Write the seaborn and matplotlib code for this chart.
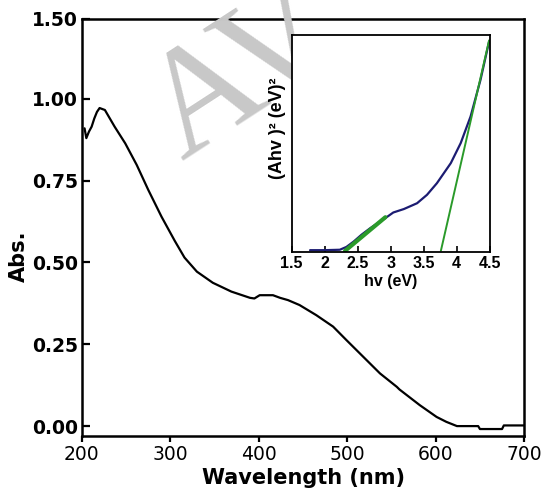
import numpy as np
import pandas as pd
import seaborn as sns
import matplotlib
matplotlib.use('Agg')
import matplotlib.pyplot as plt

# main absorption spectrum
wavelength = [203, 205, 208, 211, 214, 217, 220, 226, 237, 249, 262, 275, 290, 305,
              316, 330, 348, 369, 390, 395, 401, 416, 424, 433, 446, 465, 484, 499,
              518, 537, 556, 559, 582, 601, 612, 624, 648, 650, 675, 677, 700]
absorbance = [0.91, 0.88, 0.90, 0.915, 0.94, 0.96, 0.972, 0.966, 0.915, 0.864, 0.798,
              0.722, 0.64, 0.566, 0.515, 0.472, 0.438, 0.411, 0.392, 0.390, 0.40, 0.40,
              0.392, 0.385, 0.37, 0.339, 0.304, 0.263, 0.212, 0.161, 0.12, 0.112,
              0.064, 0.028, 0.013, 0.0, 0.0, -0.009, -0.009, 0.002, 0.002]

# Tauc plot inset (arbitrary units)
hv = [1.78, 2.0, 2.23, 2.33, 2.44, 2.56, 2.69, 2.82, 2.92, 3.04, 3.20, 3.40, 3.55,
      3.70, 3.91, 4.06, 4.21, 4.36, 4.49]
ahv2 = [0.3, 0.3, 0.5, 1.8, 4.3, 7.5, 10.5, 13.2, 15.2, 17.8, 19.4, 22.1, 26.0,
        31.4, 40.7, 50.0, 62.4, 79.4, 97.2]
fit1_hv = [2.31, 2.92]
fit1_y = [0.0, 15.6]
fit2_hv = [3.76, 4.49]
fit2_y = [0.0, 97.7]

ytick_vals = [0.0, 0.25, 0.50, 0.75, 1.00, 1.245]
ytick_labels = ['0.00', '0.25', '0.50', '0.75', '1.00', '1.50']
xtick_vals = [200, 300, 400, 500, 600, 700]
inset_ticks = [1.5, 2, 2.5, 3, 3.5, 4, 4.5]
inset_labels = ['1.5', '2', '2.5', '3', '3.5', '4', '4.5']

sns.set_style('ticks')
plt.rcParams['font.family'] = ['DejaVu Sans']
plt.rcParams['text.color'] = 'black'
plt.rcParams['axes.labelcolor'] = 'black'
plt.rcParams['xtick.color'] = 'black'
plt.rcParams['ytick.color'] = 'black'
plt.rcParams['axes.edgecolor'] = 'black'

fig = plt.figure(figsize=(5.46, 4.92), dpi=100)
ax = fig.add_axes([0.150, 0.114, 0.810, 0.848])
ax.set_zorder(0)

df = pd.DataFrame({'wl': wavelength, 'A': absorbance})
sns.lineplot(data=df, x='wl', y='A', ax=ax, color='black', lw=1.6,
             sort=False, estimator=None)
ax.set_xlim(200, 700)
ax.set_ylim(-0.03, 1.245)
ax.set_xticks(xtick_vals)
ax.set_xticklabels([str(v) for v in xtick_vals])
ax.set_yticks(ytick_vals)
ax.set_yticklabels(ytick_labels)
ax.tick_params(axis='y', direction='in', length=6, width=1.6, labelsize=13.5, pad=3)
ax.tick_params(axis='x', direction='out', length=4.5, width=1.6, labelsize=13.5, pad=2)
for lab in ax.get_yticklabels():
    lab.set_fontweight('bold')
for s in ax.spines.values():
    s.set_linewidth(1.8)
    s.set_visible(True)
ax.set_xlabel('Wavelength (nm)', fontsize=15, fontweight='bold', labelpad=3)
ax.set_ylabel('Abs.', fontsize=15, fontweight='bold')
ax.yaxis.set_label_coords(-0.12, 0.43)

# watermark (under the inset)
fig.text(0.333, 0.675, 'AV', fontsize=108, family=['Liberation Serif'],
         color='#c8c8c8', rotation=33, rotation_mode='anchor', ha='left', va='baseline',
         zorder=1)

# inset
axin = fig.add_axes([0.534, 0.488, 0.363, 0.440])
axin.set_zorder(2)
axin.set_facecolor('white')
sns.lineplot(x=hv, y=ahv2, ax=axin, color='#1c1c72', lw=1.6, sort=False, estimator=None)
sns.lineplot(x=fit1_hv, y=fit1_y, ax=axin, color='#2a9a2a', lw=3.0, sort=False, estimator=None)
sns.lineplot(x=fit2_hv, y=fit2_y, ax=axin, color='#2a9a2a', lw=1.4, sort=False, estimator=None)
axin.set_xlim(1.5, 4.5)
axin.set_ylim(-0.5, 100)
axin.set_xticks(inset_ticks)
axin.set_xticklabels(inset_labels)
axin.set_yticks([])
axin.tick_params(axis='x', direction='in', length=4, width=1.2, labelsize=11.5, pad=3)
for lab in axin.get_xticklabels():
    lab.set_fontweight('bold')
    lab.set_family(['Liberation Sans'])
for s in axin.spines.values():
    s.set_linewidth(1.3)
axin.set_xlabel('hv (eV)', fontsize=11.5, fontweight='bold', family=['Liberation Sans'], labelpad=2)
axin.set_ylabel('(Ahv )² (eV)²', fontsize=13, fontweight='bold', family=['Liberation Sans'])
axin.yaxis.set_label_coords(-0.03, 0.57)

fig.savefig('out.png', dpi=100)
